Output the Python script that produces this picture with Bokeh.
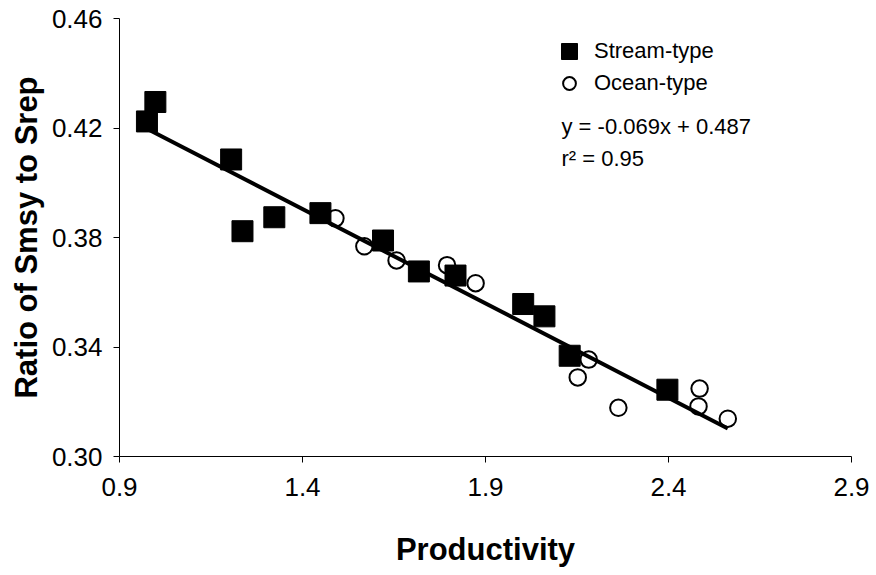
from bokeh.plotting import figure
from bokeh.models import (Legend, LegendItem, Label, FixedTicker,
                          NumeralTickFormatter, Range1d)
from bokeh.embed import file_html
from bokeh.resources import INLINE

# Productivity vs. ratio of Smsy to Srep for two life-history types
stream_x = [0.975, 0.998, 1.205, 1.236, 1.323, 1.449, 1.620, 1.718, 1.818,
            2.003, 2.061, 2.130, 2.397]
stream_y = [0.4224, 0.4295, 0.4085, 0.3823, 0.3874, 0.3889, 0.3789, 0.3676,
            0.3661, 0.3557, 0.3512, 0.3368, 0.3244]

ocean_x = [1.490, 1.569, 1.657, 1.795, 1.873, 2.152, 2.182, 2.263, 2.482,
           2.485, 2.562]
ocean_y = [0.3870, 0.3768, 0.3716, 0.3699, 0.3633, 0.3289, 0.3354, 0.3178,
           0.3183, 0.3248, 0.3138]

# fitted regression
slope = -0.069
intercept = 0.487
r_squared = 0.95

x_ticks = [0.9, 1.4, 1.9, 2.4, 2.9]
y_ticks = [0.30, 0.34, 0.38, 0.42, 0.46]

FONT = "Liberation Sans"

p = figure(width=876, height=575, output_backend="svg", toolbar_location=None,
           x_range=Range1d(0.9, 2.9), y_range=Range1d(0.30, 0.46),
           min_border_left=119, min_border_right=25,
           min_border_top=18, min_border_bottom=119)
p.grid.visible = False
p.outline_line_color = None
p.background_fill_color = "white"
p.border_fill_color = "white"

for ax in (p.xaxis[0], p.yaxis[0]):
    ax.axis_line_color = "black"
    ax.axis_line_width = 1
    ax.major_tick_line_color = "black"
    ax.major_tick_in = 0
    ax.major_tick_out = 6
    ax.minor_tick_line_color = None
    ax.major_label_text_font = FONT
    ax.major_label_text_font_size = "26px"
    ax.major_label_text_color = "black"
    ax.axis_label_text_font = FONT
    ax.axis_label_text_font_size = "31px"
    ax.axis_label_text_font_style = "bold"
    ax.axis_label_text_color = "black"

p.xaxis.ticker = FixedTicker(ticks=x_ticks)
p.yaxis.ticker = FixedTicker(ticks=y_ticks)
p.xaxis.formatter = NumeralTickFormatter(format="0.0")
p.yaxis.formatter = NumeralTickFormatter(format="0.00")
p.xaxis.major_label_standoff = 15
p.yaxis.major_label_standoff = 11
p.xaxis.axis_label = "Productivity"
p.yaxis.axis_label = "Ratio of Smsy to Srep"
p.xaxis.axis_label_standoff = 33
p.yaxis.axis_label_standoff = 5

ocean = p.scatter(ocean_x, ocean_y, marker="circle", size=16.5,
                  fill_color="white", line_color="black", line_width=2)
stream = p.scatter(stream_x, stream_y, marker="square", size=21,
                   fill_color="black", line_color="black", line_width=1)

all_x = stream_x + ocean_x
x0, x1 = min(all_x), max(all_x)
p.line([x0, x1], [slope * x0 + intercept, slope * x1 + intercept],
       line_color="black", line_width=4)

legend_style = dict(padding=0, margin=0, spacing=0,
                    border_line_color=None, background_fill_color=None,
                    background_fill_alpha=0,
                    label_text_font=FONT, label_text_font_size="22px",
                    label_text_color="black")

leg_stream = Legend(items=[LegendItem(label="Stream-type", renderers=[stream])],
                    glyph_width=40, glyph_height=40, label_standoff=5,
                    location=(430, 385), **legend_style)
leg_ocean = Legend(items=[LegendItem(label="Ocean-type", renderers=[ocean])],
                   glyph_width=32, glyph_height=32, label_standoff=9,
                   location=(434, 357), **legend_style)
p.add_layout(leg_stream)
p.add_layout(leg_ocean)

eq_text = f"y = {slope:.3f}x + {intercept:.3f}"
r2_text = f"r\u00b2 = {r_squared:.2f}"
for txt, yy in ((eq_text, 330.3), (r2_text, 297.7)):
    p.add_layout(Label(x=442, y=yy, x_units="screen", y_units="screen",
                       text=txt, text_font=FONT, text_font_size="22px",
                       text_color="black", text_baseline="alphabetic"))

open("out.html", "w").write(file_html(p, INLINE))
